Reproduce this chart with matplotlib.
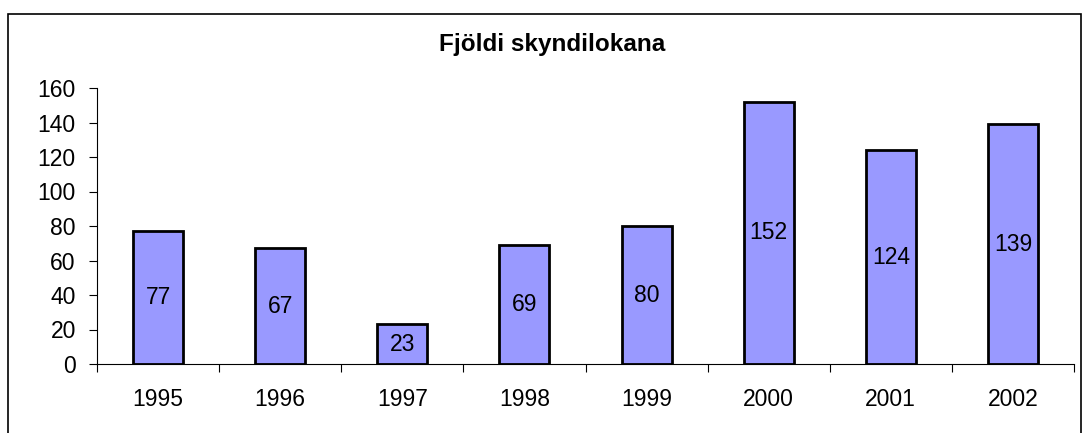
import matplotlib.pyplot as plt
from matplotlib.patches import Rectangle
import numpy as np

plt.rcParams['font.family'] = ['Liberation Sans', 'DejaVu Sans']

years = ['1995', '1996', '1997', '1998', '1999', '2000', '2001', '2002']
counts = [77, 67, 23, 69, 80, 152, 124, 139]
title = 'Fjöldi skyndilokana'

fig = plt.figure(figsize=(10.83, 4.33), dpi=100)
ax = fig.add_axes([97 / 1083, 1 - 364 / 433, (1074 - 97) / 1083, (364 - 88) / 433])

x = np.arange(len(years))
bars = ax.bar(x, counts, width=0.41, color='#9999FF', edgecolor='black', linewidth=2.0)

for xi, v in zip(x, counts):
    ax.text(xi, v / 2, str(v), ha='center', va='center', fontsize=16.5)

ax.set_xlim(-0.5, len(years) - 0.5)
ax.set_ylim(0, 160)
ax.set_yticks(range(0, 161, 20))
ax.tick_params(axis='y', labelsize=16.5, length=5.8, width=0.8, direction='out', pad=9.5)

# category labels between boundary ticks, like Excel
ax.set_xticks(np.arange(-0.5, len(years), 1.0))
ax.set_xticklabels([])
ax.set_xticks(x, minor=True)
ax.set_xticklabels(years, minor=True)
ax.tick_params(axis='x', which='major', length=5.8, width=0.8, direction='out')
ax.tick_params(axis='x', which='minor', length=0, labelsize=16.5, pad=17)

for s in ['top', 'right']:
    ax.spines[s].set_visible(False)
for s in ['left', 'bottom']:
    ax.spines[s].set_linewidth(0.8)

fig.text(552 / 1083, 1 - 45 / 433, title, ha='center', va='center',
         fontsize=17.5, fontweight='bold')

# outer chart frame
fig.patches.append(Rectangle((8 / 1083, -0.05), (1081 - 8) / 1083, 1.05 - 14 / 433,
                             transform=fig.transFigure, fill=False,
                             edgecolor='black', linewidth=1.2))

fig.savefig('out.png', dpi=100)
